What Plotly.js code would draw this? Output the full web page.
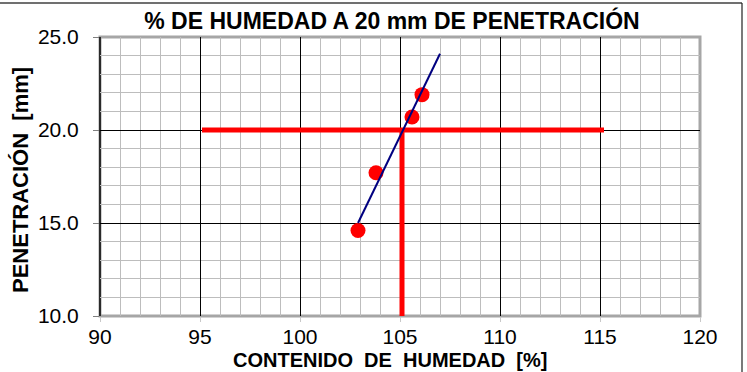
<!DOCTYPE html>
<html>
<head>
<meta charset="utf-8">
<script src="https://cdn.plot.ly/plotly-3.0.1.min.js"></script>
<style>
  body { margin: 0; background: #fff; }
  #myPlot { width: 747px; height: 372px; }
</style>
</head>
<body>
<div id="myPlot"></div>
<script>
// ensayo: contenido de humedad vs penetracion
var humedad = [102.9, 103.8, 105.6, 106.1];
var penetracion = [14.6, 17.7, 20.7, 21.9];

// recta de ajuste (tendencia)
var trendX = [102.9, 107.0];
var trendY = [15.0, 24.1];

// lineas de lectura a 20 mm
var lecturaX = [95.1, 115.2];
var lecturaY = [20, 20];
var humedad20X = [105.1, 105.1];
var humedad20Y = [20, 9.9];

var xTicks = [90, 95, 100, 105, 110, 115, 120];
var yTicks = [10, 15, 20, 25];

var font = "Liberation Sans, Arial, sans-serif";

var trace1 = {x: lecturaX, y: lecturaY, mode: "lines", line: {color: '#FF0000', width: 5}, hoverinfo: 'skip'};
var trace2 = {x: humedad20X, y: humedad20Y, mode: "lines", line: {color: '#FF0000', width: 5}, hoverinfo: 'skip', cliponaxis: false};
var trace3 = {x: humedad, y: penetracion, mode: "markers", marker: {color: '#FF0000', size: 15}};
var trace4 = {x: trendX, y: trendY, mode: "lines", line: {color: '#000080', width: 2}};

var layout = {
	width: 747,
	height: 372,
	showlegend: false,
	paper_bgcolor: '#FFFFFF',
	plot_bgcolor: '#FFFFFF',
	margin: {l: 100, r: 47, t: 37, b: 56},
	font: {family: font, color: '#000000'},
	title: {
		text: "<b>% DE HUMEDAD A 20 mm DE PENETRACIÓN</b>",
		font: {size: 23, family: font, color: '#000000'},
		x: 392/747, xanchor: 'center',
		y: 1 - 21/372, yanchor: 'middle'
	},
	xaxis: {
		range: [90, 120],
		tickvals: xTicks,
		ticktext: xTicks.map(String),
		tickfont: {size: 21},
		ticks: 'outside', ticklen: 5, tickcolor: '#C8C8C8',
		ticklabelstandoff: -3,
		showgrid: true, gridcolor: '#000000', gridwidth: 1,
		minor: {dtick: 1, showgrid: true, gridcolor: '#BDBDBD', gridwidth: 1},
		zeroline: false,
		fixedrange: true
	},
	yaxis: {
		range: [10, 25],
		tickvals: yTicks,
		ticktext: yTicks.map(function(v){ return v.toFixed(1); }),
		tickfont: {size: 21},
		ticks: 'outside', ticklen: 6, tickcolor: '#808080',
		ticklabelstandoff: 10,
		showgrid: true, gridcolor: '#000000', gridwidth: 1,
		minor: {dtick: 1, showgrid: true, gridcolor: '#BDBDBD', gridwidth: 1},
		zeroline: false,
		fixedrange: true
	},
	annotations: [
		{text: "<b>CONTENIDO  DE  HUMEDAD  [%]</b>", xref: 'paper', yref: 'paper',
		 x: (390 - 100)/600, y: (316 - 360)/279, xanchor: 'center', yanchor: 'middle',
		 showarrow: false, font: {size: 20}},
		{text: "<b>PENETRACIÓN  [mm]</b>", xref: 'paper', yref: 'paper',
		 x: (20 - 100)/600, y: (316 - 180)/279, xanchor: 'center', yanchor: 'middle',
		 textangle: -90, showarrow: false, font: {size: 22}}
	],
	shapes: [
		// borde del area de trazado
		{type: 'rect', xref: 'paper', yref: 'paper', x0: 0, x1: 1, y0: 0, y1: 1,
		 line: {color: '#A6A6A6', width: 3}, layer: 'below'},
		{type: 'line', xref: 'paper', yref: 'paper', x0: 0, x1: 0, y0: 0, y1: 1,
		 line: {color: '#000000', width: 1.5}, layer: 'below'},
		// marco exterior del grafico
		{type: 'line', xref: 'paper', yref: 'paper', x0: -100/600, x1: 642/600, y0: 313/279, y1: 313/279,
		 line: {color: '#707070', width: 2}},
		{type: 'line', xref: 'paper', yref: 'paper', x0: 642/600, x1: 642/600, y0: 313/279, y1: -60/279,
		 line: {color: '#202020', width: 1.2}}
	]
};

Plotly.newPlot("myPlot", [trace1, trace2, trace3, trace4], layout, {displayModeBar: false, staticPlot: true});
</script>
</body>
</html>
